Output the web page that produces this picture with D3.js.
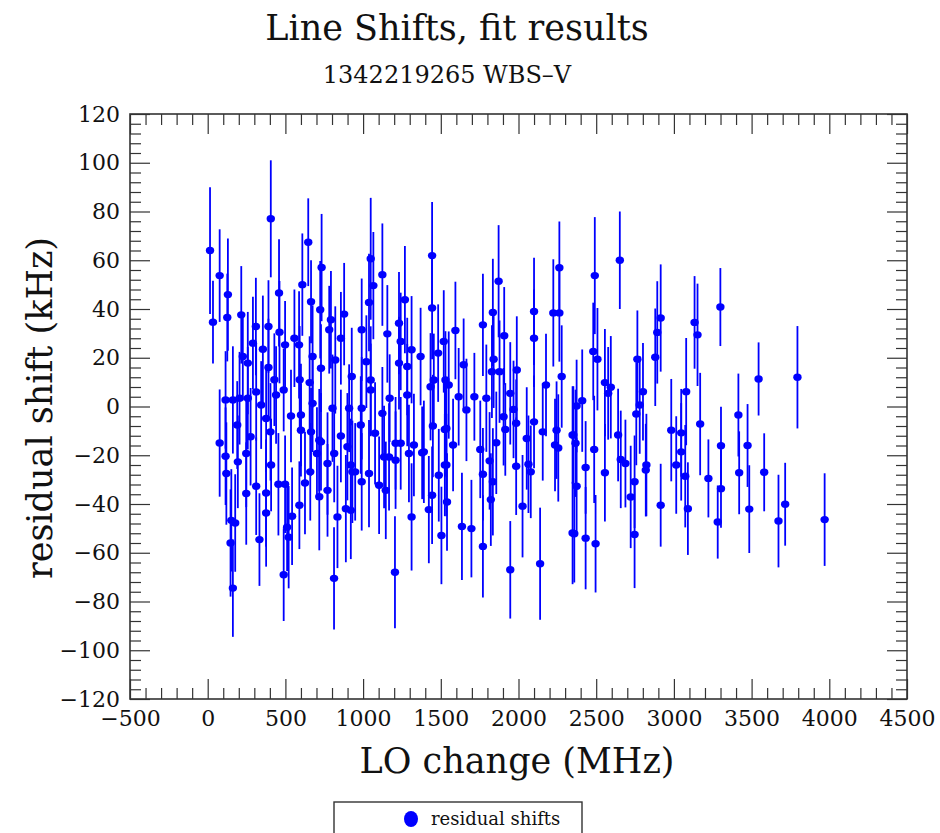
<!DOCTYPE html>
<html><head><meta charset="utf-8">
<script src="https://cdn.jsdelivr.net/npm/d3@7"></script>
<style>
body{margin:0;background:#fff;}
text{font-family:"DejaVu Serif",serif;fill:#111;}
</style></head><body>
<svg id="chart" width="940" height="833"></svg>
<script>
const title = "Line Shifts, fit results";
const subtitle = "1342219265 WBS\u2013V";
const xLabel = "LO change (MHz)";
const yLabel = "residual shift (kHz)";
const legendLabel = "residual shifts";
const xTicks = [-500,0,500,1000,1500,2000,2500,3000,3500,4000,4500];
const yTicks = [-120,-100,-80,-60,-40,-20,0,20,40,60,80,100,120];

const loChange = [
15,34,77,130,126,216,406,459,647,609,665,724,733,391,462,498,558,588,310,291,
355,226,258,391,429,489,440,592,656,675,729,115,162,205,258,312,344,376,404,536,
600,675,665,718,600,77,115,120,194,248,276,190,248,312,376,408,455,498,590,626,
660,703,718,152,177,376,333,543,511,521,489,162,147,
793,782,878,821,857,927,991,1049,1066,1038,1021,1124,1156,1049,1049,991,985,910,803,729,
857,771,814,899,921,931,949,889,921,835,771,991,1038,1077,1103,1124,1135,1146,1171,1167,
1209,1205,1209,1231,1269,1242,1231,1284,1284,1312,1242,1327,1295,1312,1380,1391,1370,1444,1444,1483,
1455,1434,1519,1530,1526,1449,1444,1423,1487,1526,1504,813,
1594,1647,1665,1615,1551,1536,1579,1536,1540,1636,1697,1716,1771,1835,1872,1840,1829,1878,1908,1793,
1754,1771,1771,1814,1835,1822,1857,1904,1915,1947,1968,1985,1989,1985,1947,2026,2064,2079,2053,2100,
2100,2100,2139,2156,2177,2224,2263,2263,2278,2245,2256,2235,2348,2348,
2353,2367,2374,2410,2374,2359,2432,2432,2491,2481,2508,2487,2496,2556,2577,2594,2556,2652,2641,2658,
2688,2722,2747,2747,2765,2758,2780,2801,2823,2819,2880,2893,2915,2915,2983,3015,3047,3047,3073,3079,
3090,3133,3152,
3169,3222,3299,3282,3303,3303,3415,3420,3474,3485,3545,3581,3673,3716,3795,3970
];
const residualShift = [
64,34.6,53.7,45.9,36.5,37.6,77,46.6,67.4,50,43,39.7,57,32.8,30.5,25.3,28,25.3,32.8,26,
23.5,20.5,17.8,16,11,6.8,4.7,11,9.8,20.5,15.7,2.7,2.7,3.4,3.4,6,0.6,-4.9,-10.4,-3.9,
-3.5,1.3,-10.4,-13.8,-9.7,-15,-20.4,-27.5,-22.7,-19.3,-12.4,-7.6,-35.7,-32.7,-35.5,-24,-31.9,-31.9,-40.5,-31.4,
-26.8,-19.3,-37,-46.7,-47.8,-43.7,-54.6,-45,-49.5,-53.6,-69,-74.5,-56,
35.6,31.5,37.9,19.1,28,12.3,31.5,60.6,49.6,42.7,18.4,54.1,29.8,10.9,6.8,-0.7,-7.6,-0.7,-0.7,-14.5,
-12.1,-23.4,-19.3,-16.5,-24,-26.8,-26.8,-41.9,-42.6,-45.3,-34.4,-30.9,-27.5,-11,-32.3,-2.8,-20.7,-34.4,3.4,-20.7,
-22,-68,-15.1,34.2,43.8,26.7,17.8,4.7,16.4,23.3,-15.1,-15.8,-19.3,-45.3,-19,-18.6,20.5,61.9,40.4,21.9,
10.9,8.1,26.7,10.9,-9.4,-8,-36.4,-42.3,-28.2,-24,-52.9,-70.5,
31.2,17.1,-1.4,4,8.8,-9,-15.8,-24,-39.2,-49.2,-50.1,4,33.5,38.6,51.4,19.4,14.3,14.3,29,3.4,
-17.6,-27.8,-57.4,-22.3,-30.9,-38.2,-14.9,-4.2,-9.4,5.4,-1.2,-6.9,15,-24.5,-67,-40.9,-23.7,-26.8,-13.1,39,
28,-6.3,-64.5,-10.4,8.8,38.4,38.4,56.9,12.3,-9.7,-17,-15.8,-11.7,-51.9,
-11.7,-15.1,0.2,2.4,-32.7,-52.2,-25,-54,53.7,22.6,19.4,-17.6,-56.3,9.8,5.4,7.9,-27.2,60,-11.7,-21.7,
-23.4,-37.1,-30.9,-52.5,19.4,-3.1,0.6,6.1,-24,-26.1,20.2,30.4,36.3,-40.5,-9.7,-24,-10.8,-18.6,-28.6,6.1,
-41.9,34.5,29.4,
-7.2,-29.5,40.8,-47.4,-16.1,-33.7,-3.5,-27.2,-16,-42.1,11.3,-27,-47,-40.1,12,-46.4
];
const shiftError = [
26,17,19,23,18,20,24,22,18,21,17,20,22,19,21,18,20,22,20,19,
22,18,21,20,19,17,20,22,19,21,18,20,22,19,21,20,18,22,20,19,
21,20,18,21,19,22,20,21,19,22,20,18,21,20,22,19,21,20,18,21,
20,19,22,21,20,22,19,20,18,21,19,20,22,
20,18,21,22,19,20,21,25,22,20,19,21,20,22,19,21,20,18,22,20,
19,21,20,22,19,21,20,22,20,21,19,20,22,21,20,19,21,20,18,22,
20,23,19,21,22,20,19,21,20,22,19,21,20,22,19,21,20,22,21,20,
19,22,21,20,19,21,20,22,19,21,20,21,
20,19,21,20,22,20,19,21,20,22,20,18,21,22,23,20,19,21,20,22,
20,19,21,20,22,19,21,20,19,21,20,18,22,20,20,21,20,19,21,22,
20,19,23,20,21,22,20,19,21,20,22,19,20,21,
20,22,19,21,20,20,19,21,24,20,21,22,20,22,19,21,20,20,19,20,
18,21,19,22,20,21,20,20,21,19,20,21,22,17,21,20,18,20,21,22,
19,19,21,
21,16,16,15,16,16,17,17,17,18,15,16,19,17,21,19
];

const n = Math.min(loChange.length, residualShift.length, shiftError.length);
const data = d3.range(n).map(i => ({x: loChange[i], y: residualShift[i], e: shiftError[i]}));

const svg = d3.select("#chart");
const L = 130, R = 907, T = 114, B = 699;
const x = d3.scaleLinear().domain([-500, 4500]).range([L, R]);
const y = d3.scaleLinear().domain([-120, 120]).range([B, T]);

const xMinor = d3.range(-500, 4501, 100).filter(v => v % 500 !== 0);
const yMinor = d3.range(-120, 121, 4).filter(v => v % 20 !== 0);
const fmt = d => (d < 0 ? "\u2212" + Math.abs(d) : String(d));
const axColor = "#333";

function styleAxis(g){
  g.select(".domain").remove();
  g.selectAll(".tick line").attr("stroke", axColor).attr("stroke-width", 1.2);
  g.selectAll(".tick text").style("font-size", "22px").attr("fill", "#111");
}
svg.append("g").attr("transform", `translate(0,${B})`)
  .call(d3.axisBottom(x).tickValues(xTicks).tickSize(-20).tickPadding(11).tickFormat(fmt)).call(styleAxis);
svg.append("g").attr("transform", `translate(0,${B})`)
  .call(d3.axisBottom(x).tickValues(xMinor).tickSize(-11).tickFormat("")).call(styleAxis);
svg.append("g").attr("transform", `translate(0,${T})`)
  .call(d3.axisTop(x).tickValues(xTicks).tickSize(-20).tickFormat("")).call(styleAxis);
svg.append("g").attr("transform", `translate(0,${T})`)
  .call(d3.axisTop(x).tickValues(xMinor).tickSize(-11).tickFormat("")).call(styleAxis);
svg.append("g").attr("transform", `translate(${L},0)`)
  .call(d3.axisLeft(y).tickValues(yTicks).tickSize(-20).tickPadding(10).tickFormat(fmt)).call(styleAxis);
svg.append("g").attr("transform", `translate(${L},0)`)
  .call(d3.axisLeft(y).tickValues(yMinor).tickSize(-11).tickFormat("")).call(styleAxis);
svg.append("g").attr("transform", `translate(${R},0)`)
  .call(d3.axisRight(y).tickValues(yTicks).tickSize(-20).tickFormat("")).call(styleAxis);
svg.append("g").attr("transform", `translate(${R},0)`)
  .call(d3.axisRight(y).tickValues(yMinor).tickSize(-11).tickFormat("")).call(styleAxis);

svg.append("rect").attr("x", L).attr("y", T).attr("width", R - L).attr("height", B - T)
  .attr("fill", "none").attr("stroke", axColor).attr("stroke-width", 1.6);

const blue = "#0000ff";
const plot = svg.append("g");
plot.selectAll("line.err").data(data).join("line").attr("class", "err")
  .attr("x1", d => x(d.x)).attr("x2", d => x(d.x))
  .attr("y1", d => y(d.y - d.e)).attr("y2", d => y(d.y + d.e))
  .attr("stroke", blue).attr("stroke-width", 1.8);
plot.selectAll("ellipse.pt").data(data).join("ellipse").attr("class", "pt")
  .attr("cx", d => x(d.x)).attr("cy", d => y(d.y)).attr("rx", 4.2).attr("ry", 3.7).attr("fill", blue);

svg.append("text").attr("x", 457).attr("y", 40).attr("text-anchor", "middle")
  .style("font-size", "35px").text(title);
svg.append("text").attr("x", 447).attr("y", 83).attr("text-anchor", "middle")
  .style("font-size", "24px").text(subtitle);
svg.append("text").attr("x", 517).attr("y", 773).attr("text-anchor", "middle")
  .style("font-size", "35px").text(xLabel);
svg.append("text").attr("transform", "translate(52,408) rotate(-90)").attr("text-anchor", "middle")
  .style("font-size", "35px").text(yLabel);

const lg = svg.append("g");
lg.append("rect").attr("x", 334).attr("y", 802).attr("width", 248).attr("height", 60)
  .attr("fill", "#fff").attr("stroke", axColor).attr("stroke-width", 1.4);
lg.append("ellipse").attr("cx", 411).attr("cy", 819).attr("rx", 7).attr("ry", 8).attr("fill", blue);
lg.append("text").attr("x", 431).attr("y", 825).style("font-size", "18px").text(legendLabel);
</script></body></html>
